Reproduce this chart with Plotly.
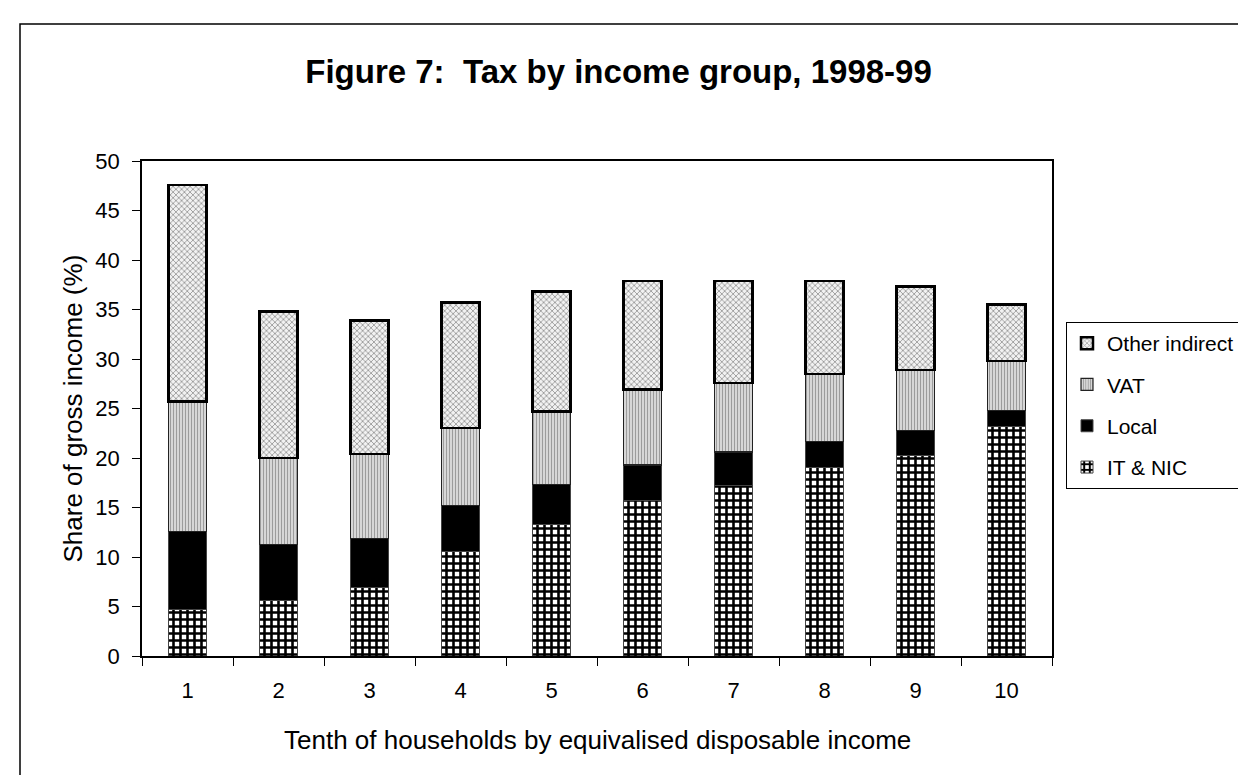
import plotly.graph_objects as go

# ---- data ----
deciles = ["1", "2", "3", "4", "5", "6", "7", "8", "9", "10"]
it_nic = [4.7, 5.6, 6.9, 10.6, 13.3, 15.7, 17.2, 19.0, 20.3, 23.2]
local_tax = [7.9, 5.7, 5.0, 4.6, 4.0, 3.6, 3.4, 2.7, 2.5, 1.6]
vat = [13.1, 8.7, 8.5, 7.85, 7.4, 7.6, 7.0, 6.8, 6.1, 5.0]
other_indirect = [21.9, 14.8, 13.5, 12.65, 12.1, 11.0, 10.3, 9.4, 8.4, 5.7]
y_ticks = [0, 5, 10, 15, 20, 25, 30, 35, 40, 45, 50]

FONT = "Arial, 'Liberation Sans', sans-serif"

W, H = 1246, 775
L, R, T, B = 134, 1044, 153, 648  # plot area in pixels
pw, ph = R - L, B - T


def px_x(x):
    return (x - L) / pw


def px_y(y):
    return (B - y) / ph


fig = go.Figure()

fig.add_trace(go.Bar(
    name="IT & NIC", x=deciles, y=it_nic, legendrank=4, legendgroup="d",
    marker=dict(color="black",
                pattern=dict(shape="+", fgcolor="black", bgcolor="white",
                             fgopacity=1, size=7, solidity=0.6),
                line=dict(color="#444444", width=1)),
))
fig.add_trace(go.Bar(
    name="Local", x=deciles, y=local_tax, legendrank=3, legendgroup="c",
    marker=dict(color="black", line=dict(color="#444444", width=1)),
))
fig.add_trace(go.Bar(
    name="VAT", x=deciles, y=vat, legendrank=2, legendgroup="b",
    marker=dict(color="#bdbdbd",
                pattern=dict(shape="|", fgcolor="#555555", bgcolor="#e2e2e2",
                             size=3, solidity=0.45),
                line=dict(color="#222222", width=1.2)),
))
fig.add_trace(go.Bar(
    name="Other indirect", x=deciles, y=other_indirect, legendrank=1,
    legendgroup="a",
    marker=dict(color="#c0c0c0",
                pattern=dict(shape="x", fgcolor="#444444", bgcolor="#f2f2f2",
                             size=4, solidity=0.4),
                line=dict(color="black", width=2.5)),
))

fig.update_layout(
    width=W, height=H,
    barmode="stack",
    bargap=0.58,
    plot_bgcolor="white",
    paper_bgcolor="white",
    font=dict(family=FONT, size=22, color="black"),
    margin=dict(l=L, r=W - R, t=T, b=H - B, autoexpand=False),
    title=dict(text="<b>Figure 7:&nbsp; Tax by income group, 1998-99</b>",
               font=dict(family=FONT, size=33, color="black"),
               x=0.49, xref="container", xanchor="center",
               y=1 - 63 / H, yref="container", yanchor="middle"),
    showlegend=True,
    legend=dict(
        x=px_x(1058), xanchor="left", y=px_y(314), yanchor="top",
        bgcolor="white", bordercolor="black", borderwidth=1,
        font=dict(family=FONT, size=21, color="black"),
        traceorder="grouped", tracegroupgap=11,
    ),
    xaxis=dict(
        type="category",
        showline=True, linecolor="black", linewidth=1.5, mirror=True,
        ticks="outside", tickson="boundaries", ticklen=8, tickcolor="black",
        tickfont=dict(size=22), ticklabelstandoff=14,
        showgrid=False,
    ),
    yaxis=dict(
        range=[0, 50], tickvals=y_ticks,
        showline=True, linecolor="black", linewidth=1.5, mirror=True,
        ticks="outside", ticklen=8, tickcolor="black",
        tickfont=dict(size=22), ticklabelstandoff=8,
        showgrid=False, zeroline=False,
    ),
    shapes=[dict(
        type="rect", xref="paper", yref="paper",
        x0=px_x(12), x1=2.0, y0=-2.0, y1=px_y(16),
        line=dict(color="black", width=1.5), fillcolor="rgba(0,0,0,0)",
        layer="below",
    )],
    annotations=[
        dict(text="Tenth of households by equivalised disposable income",
             xref="paper", yref="paper", x=0.5, y=px_y(732),
             xanchor="center", yanchor="middle", showarrow=False,
             font=dict(family=FONT, size=26, color="black")),
        dict(text="Share of gross income (%)",
             xref="paper", yref="paper", x=px_x(64), y=0.5,
             xanchor="center", yanchor="middle", showarrow=False,
             textangle=-90,
             font=dict(family=FONT, size=26, color="black")),
    ],
)

fig.write_html("out.html")
